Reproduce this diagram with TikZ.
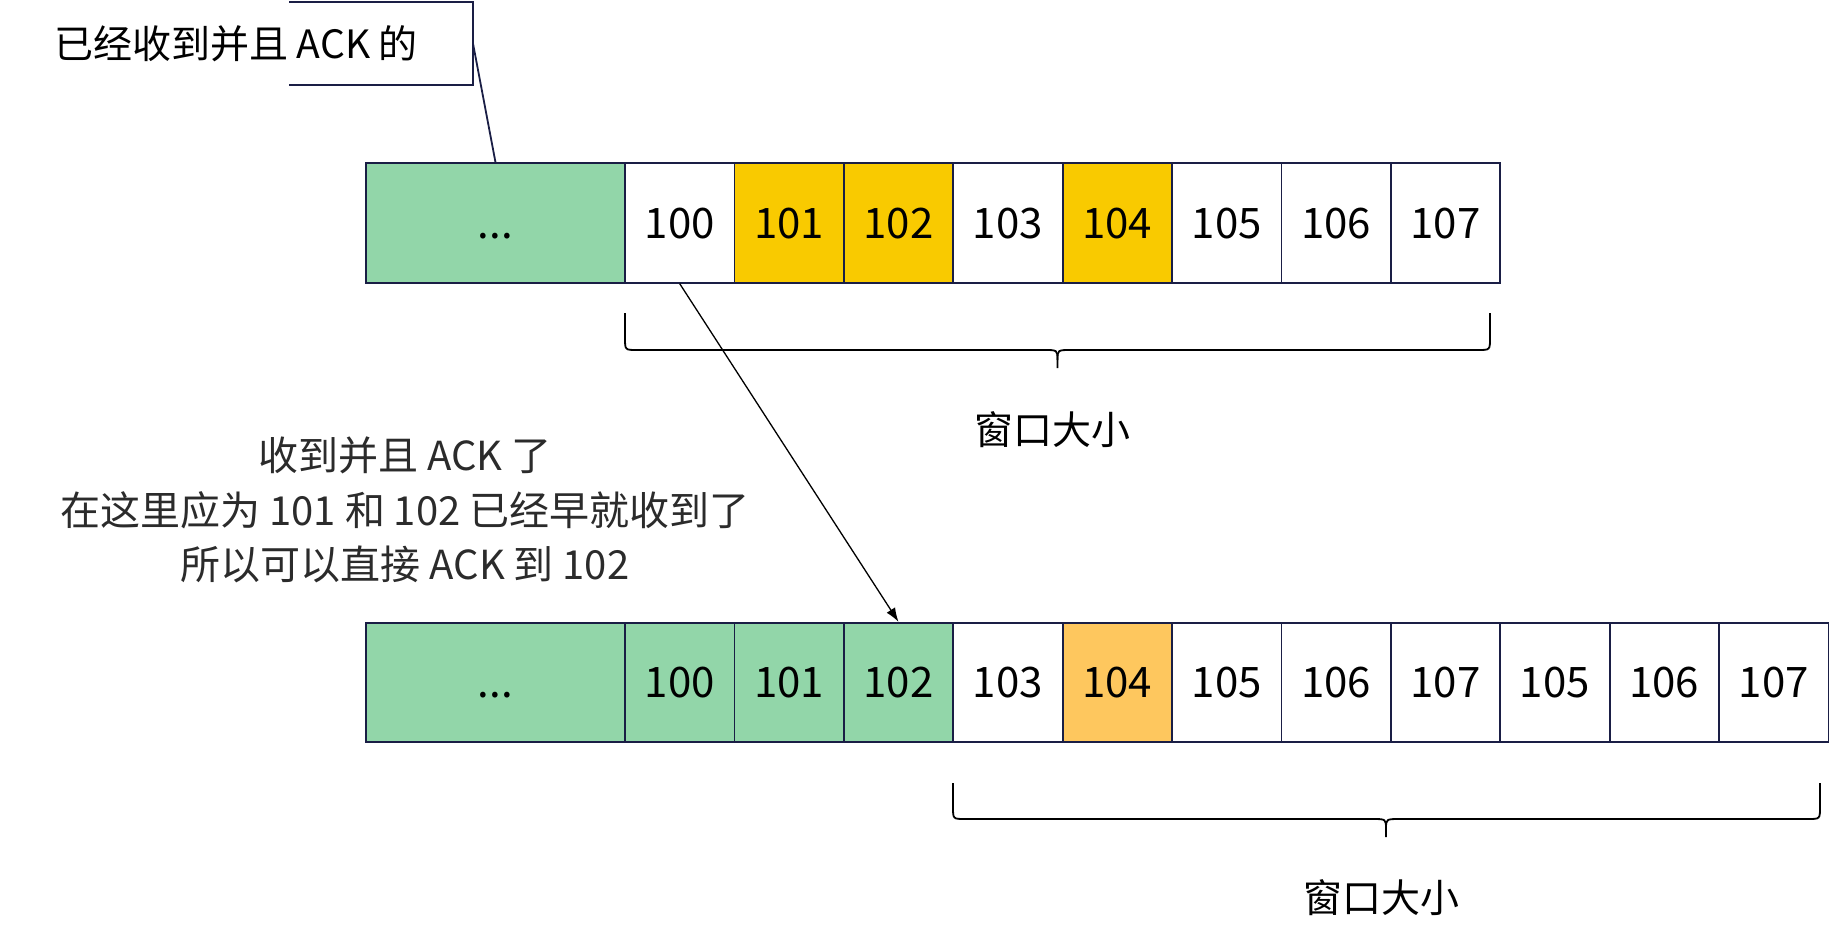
\documentclass[tikz,border=0pt]{standalone}
\usepackage{fontspec}
\newfontfamily\cjk{Noto Sans CJK SC}
\usetikzlibrary{arrows.meta}
\definecolor{navy}{HTML}{1A1E45}
\definecolor{acked}{HTML}{92D6A9}
\definecolor{gotyel}{HTML}{F9CA00}
\definecolor{gotorg}{HTML}{FEC75E}
\definecolor{txtgray}{HTML}{2B2B2B}
\tikzset{
  cell/.style={draw=navy, line width=1.8pt, minimum width=109.4pt, minimum height=119.5pt, inner sep=0pt, text height=30pt, text depth=0pt, font=\cjk\fontsize{42}{48}\selectfont},
  bigcell/.style={cell, minimum width=259pt, fill=acked},
  lbl/.style={font=\cjk\fontsize{39}{44}\selectfont, inner sep=0pt},
  bracestyle/.style={line width=1.8pt, black},
  link/.style={draw=navy, line width=1.8pt},
  ackarrow/.style={line width=1.3pt, black, -{Latex[length=14pt,width=10pt]}}
}
\begin{document}
\begin{tikzpicture}[x=1pt,y=-1pt]
\useasboundingbox (0,0) rectangle (1832,934);
% top row
\node[bigcell] (tg) at (495.5,223) {...};
\foreach \n/\c [count=\k from 0] in {100/white,101/gotyel,102/gotyel,103/white,104/gotyel,105/white,106/white,107/white}{
  \node[cell, fill=\c] (t\k) at ({625+109.4*(\k+0.5)},223) {\n};
}
% bottom row
\node[bigcell] (bg) at (495.5,682.5) {...};
\foreach \n/\c [count=\k from 0] in {100/acked,101/acked,102/acked,103/white,104/gotorg,105/white,106/white,107/white,105/white,106/white,107/white}{
  \node[cell, fill=\c] (b\k) at ({625+109.4*(\k+0.5)},682.5) {\n};
}
% callout
\node[lbl, text=black] (ackedlbl) at (236,44) {已经收到并且 ACK 的};
\draw[link] (289,1.7) -- (473,1.7) -- (473,85.3) -- (289,85.3);
\coordinate (callr) at (473,43.5);
\draw[link] (callr) -- (tg.north);
% arrow
\draw[ackarrow] (t0.south) -- (b2.north);
% middle text
\node[lbl, text=txtgray, align=center, font=\cjk\fontsize{40}{54.5}\selectfont] (expl) at (405,510) {收到并且 ACK 了\\在这里应为 101 和 102 已经早就收到了\\所以可以直接 ACK 到 102};
% top brace
\draw[bracestyle] (625,313) -- (625,338) .. controls (625,350) .. (637,350) -- (1044,350) .. controls (1057.5,350) .. (1057.5,360) -- (1057.5,368);
\draw[bracestyle] (1490,313) -- (1490,338) .. controls (1490,350) .. (1478,350) -- (1071,350) .. controls (1057.5,350) .. (1057.5,360);
\node[lbl] (win1) at (1052,430) {窗口大小};
% bottom brace
\draw[bracestyle] (953,783) -- (953,807) .. controls (953,819) .. (965,819) -- (1372,819) .. controls (1386,819) .. (1386,829) -- (1386,837);
\draw[bracestyle] (1820,783) -- (1820,807) .. controls (1820,819) .. (1808,819) -- (1400,819) .. controls (1386,819) .. (1386,829);
\node[lbl] (win2) at (1381,898) {窗口大小};
\end{tikzpicture}
\end{document}
